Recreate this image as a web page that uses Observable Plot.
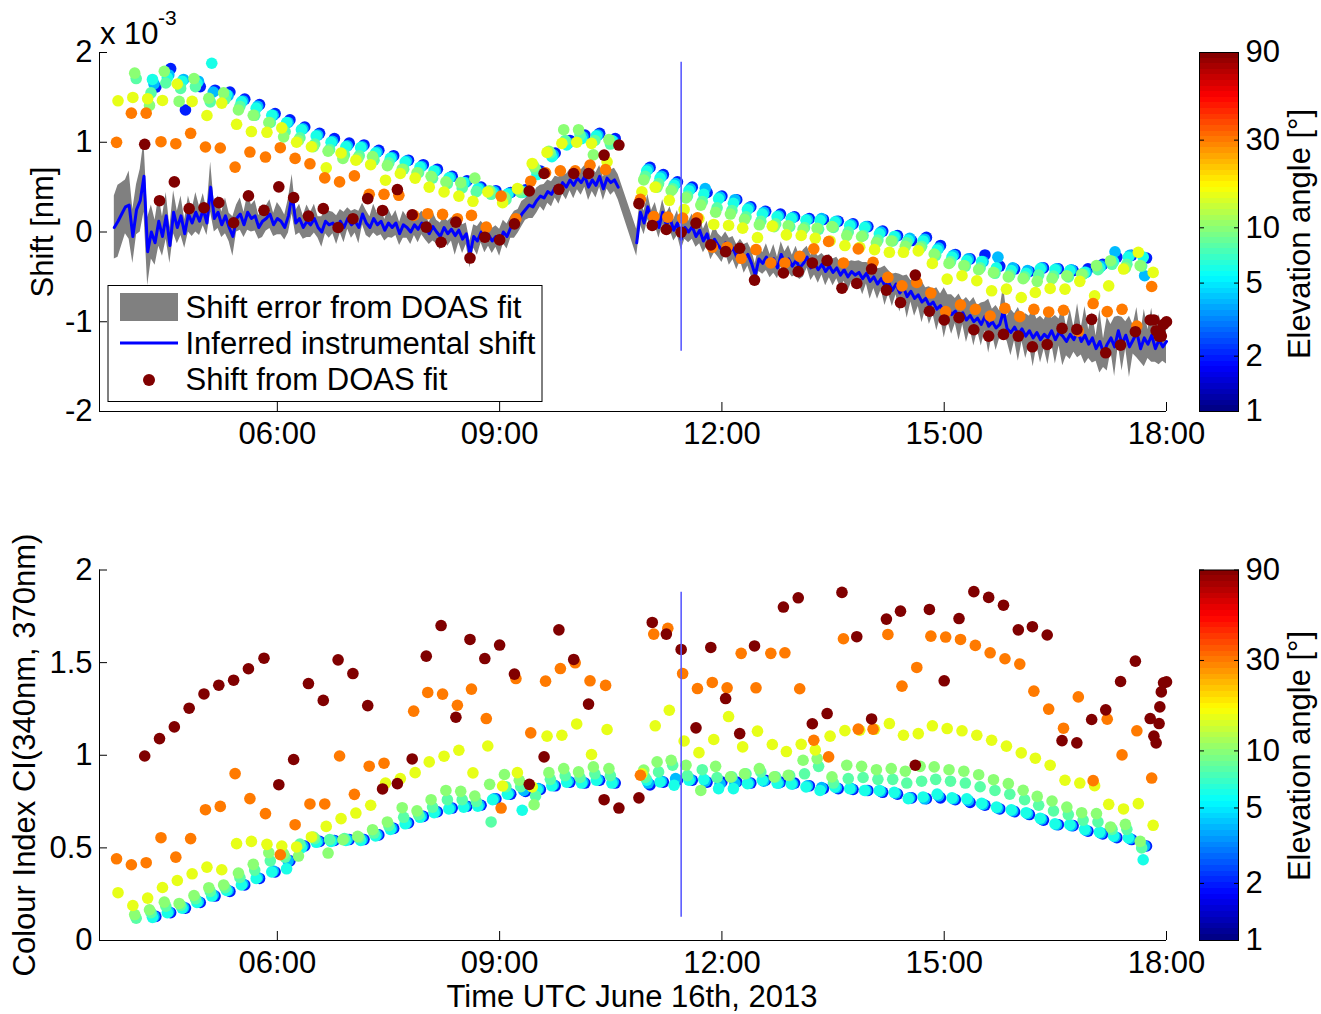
<!DOCTYPE html>
<html><head><meta charset="utf-8">
<script src="https://cdn.jsdelivr.net/npm/d3@7"></script>
<script src="https://cdn.jsdelivr.net/npm/@observablehq/plot@0.6"></script>
<style>
body{margin:0;background:#fff;font-family:"Liberation Sans",Arial,sans-serif;}
#wrap{position:relative;width:1321px;height:1014px;overflow:hidden;background:#fff;}
.abs{position:absolute;}
.lbl{position:absolute;font-size:31px;line-height:31px;color:#000;white-space:nowrap;}
.rot{transform:translate(-50%,-50%) rotate(-90deg);}
</style></head><body>
<div id="wrap">
  <div id="topPlot" class="abs" style="left:0;top:0"></div>
  <div id="topBar" class="abs" style="left:1189px;top:0"></div>
  <div id="botPlot" class="abs" style="left:0;top:517px"></div>
  <div id="botBar" class="abs" style="left:1189px;top:517px"></div>
</div>
<script>
// ---------------- DATA ----------------
const xStart = 3.6, xEnd = 18;                 // hours UTC
const xTicks = [6, 9, 12, 15, 18];
const yTicksTop = [-2, -1, 0, 1, 2];
const yTicksBot = [0, 0.5, 1, 1.5, 2];
const cbTicks = [1, 2, 5, 10, 30, 90];

// elevation sequence of each scan and time offset (h) of each elevation within the scan
const elevations = [90, 30, 15, 10, 8, 6, 4, 2];
const elevOffsetH = [0, 0.02, 0.04, 0.065, 0.085, 0.105, 0.125, 0.15];

// scan start times (h UTC)
const scanTime = [3.81, 4.01, 4.21, 4.41, 4.61, 4.81, 5.01, 5.21, 5.41, 5.61,
 5.82, 6.02, 6.22, 6.42, 6.62, 6.82, 7.02, 7.22, 7.42, 7.62,
 7.82, 8.01, 8.21, 8.41, 8.60, 8.80, 9.00, 9.20, 9.40, 9.60,
 9.80, 10.00, 10.20, 10.41, 10.61,
 10.88, 11.06, 11.25, 11.45, 11.65, 11.85, 12.05, 12.24, 12.44, 12.64,
 12.83, 13.03, 13.22, 13.42, 13.62, 13.82, 14.02, 14.22, 14.41, 14.61,
 14.80, 15.00, 15.20, 15.40, 15.60, 15.80, 16.00, 16.19, 16.39, 16.59,
 16.79, 16.99, 17.18, 17.38, 17.58, 17.78];

// extra zenith measurements at the end of the day
const endTime = [17.83, 17.86, 17.90, 17.91, 17.93, 17.96, 18.00];
const endShift = [-0.98, -1.10, -1.16, -1.12, -1.16, -1.03, -1.00];
const endCI = [1.103, 1.067, 1.171, 1.261, 1.342, 1.391, 1.396];

// ---- shift from DOAS fit (x 1e-3 nm) per elevation ----
const sh90 = [null, null, 0.977, 0.349, 0.558, 0.26, 0.27, 0.327, 0.103, 0.402,
 0.241, 0.503, 0.383, 0.177, 0.26, 0.05, 0.148, 0.372, 0.24, 0.473,
 0.192, 0.054, -0.114, 0.11, -0.29, -0.058, -0.088, 0.091, 0.457, 0.652,
 0.476, 0.652, 0.652, 0.857, 0.969,
 0.316, 0.073, 0.028, -0.002, 0.099, -0.144, -0.219, -0.181, -0.536, null,
 -0.457, -0.442, -0.345, -0.319, -0.626, -0.573, -0.413, -0.648, -0.786, -0.48,
 -0.883, -0.98, -0.954, -1.089, -1.16, -1.141, -1.16, -1.279, -1.253, -1.074,
 -1.085, -0.973, -1.346, -1.26, -1.111, -0.98];
const sh30 = [0.999, 1.324, 1.324, 1.006, 0.984, 1.1, 0.947, 0.936, 0.723, 0.891,
 0.835, 0.939, 0.82, 0.76, 0.603, 0.558, 0.625, 0.42, 0.42, 0.409,
 0.185, 0.204, 0.196, 0.148, 0.185, 0.054, 0.40, 0.148, 0.566, 0.66,
 0.682, 0.682, 0.745, 0.696, null,
 0.364, 0.173, 0.166, 0.155, 0.159, -0.17, -0.17, -0.293, -0.196, -0.345,
 -0.345, -0.271, -0.188, -0.106, -0.345, -0.188, -0.338, -0.506, -0.6, -0.562,
 -0.68, -0.887, -0.812, -0.861, -0.936, -0.85, -0.943, -0.861, -0.891, -0.872,
 -1.104, -0.797, -0.887, -0.861, -1.048, -0.607];
const sh15 = [1.462, 1.499, 1.485, 1.466, 1.649, 1.455, 1.298, 1.436, 1.2, 1.119,
 1.111, 1.16, 1.0, 0.95, 0.715, 0.88, 0.80, 0.75, 0.577, 0.652,
 0.60, 0.50, 0.446, 0.40, 0.342, 0.446, 0.327, 0.484, 0.764, 0.887,
 0.988, 1.0, 0.988, 0.782, null,
 0.447, 0.50, 0.353, 0.25, 0.15, 0.084, 0.073, 0.043, -0.062, 0.065,
 -0.032, -0.039, -0.069, -0.10, -0.151, -0.17, -0.196, -0.226, -0.226, -0.21,
 -0.35, -0.525, -0.487, -0.543, -0.655, -0.637, -0.73, -0.674, -0.629, -0.637,
 -0.55, -0.711, -0.60, -0.413, -0.226, -0.45];
const sh10 = [null, 1.77, 1.41, 1.79, 1.455, 1.71, 1.49, 1.55, 1.36, 1.30,
 1.22, 1.06, 1.02, 0.95, 0.90, 0.82, 0.82, 0.84, 0.74, 0.70,
 0.66, 0.62, 0.56, 0.55, 0.60, 0.46, 0.39, 0.47, 0.73, 0.90,
 1.14, 1.14, 0.86, 1.03, null,
 0.58, 0.50, 0.46, 0.38, 0.30, 0.22, 0.20, 0.14, 0.08, 0.06,
 0.07, 0.03, 0.04, 0.06, -0.04, -0.05, -0.12, -0.10, -0.16, -0.18,
 -0.245, -0.35, -0.375, -0.42, -0.45, -0.50, -0.52, -0.55, -0.52, -0.487,
 -0.47, -0.375, -0.32, -0.40, -0.375, null];
const sh8 = [null, 1.71, 1.55, 1.66, 1.60, 1.62, 1.45, 1.48, 1.40, 1.30,
 1.22, 1.12, 1.05, 0.98, 0.92, 0.86, 0.85, 0.80, 0.77, 0.70,
 0.66, 0.60, 0.54, 0.49, 0.45, 0.42, 0.36, 0.44, 0.70, 0.88,
 1.02, 1.08, 1.02, 0.98, null,
 0.62, 0.54, 0.48, 0.40, 0.34, 0.27, 0.24, 0.17, 0.12, 0.09,
 0.06, 0.05, 0.03, 0.05, 0.00, -0.04, -0.09, -0.10, -0.12, -0.16,
 -0.26, -0.33, -0.38, -0.40, -0.46, -0.48, -0.50, -0.48, -0.49, -0.50,
 -0.47, -0.42, -0.36, -0.36, -0.38, null];
const sh6 = [null, null, 1.70, 1.72, 1.68, 1.66, 1.88, 1.53, 1.45, 1.38,
 1.30, 1.22, 1.14, 1.07, 1.00, 0.95, 0.94, 0.88, 0.82, 0.78,
 0.72, 0.68, 0.60, 0.55, 0.48, 0.44, 0.42, 0.44, 0.64, 0.84,
 0.97, 1.04, 1.07, 1.02, null,
 0.68, 0.60, 0.52, 0.46, 0.42, 0.37, 0.32, 0.25, 0.20, 0.17,
 0.15, 0.13, 0.13, 0.11, 0.07, 0.05, -0.02, -0.05, -0.09, -0.10,
 -0.20, -0.28, -0.32, -0.33, -0.40, -0.43, -0.46, -0.41, -0.42, -0.43,
 -0.45, -0.40, -0.33, -0.28, -0.28, null];
const sh4 = [null, null, 1.65, 1.75, 1.70, 1.68, 1.56, 1.52, 1.46, 1.40,
 1.30, 1.22, 1.15, 1.08, 1.01, 0.96, 0.95, 0.89, 0.83, 0.79,
 0.73, 0.68, 0.61, 0.55, 0.49, 0.45, 0.43, 0.45, 0.66, 0.86,
 0.99, 1.06, 1.08, 1.01, null,
 0.70, 0.62, 0.54, 0.48, 0.484, 0.39, 0.36, 0.27, 0.22, 0.18,
 0.16, 0.14, 0.15, 0.12, 0.08, 0.06, 0.00, -0.05, -0.07, -0.08,
 -0.18, -0.26, -0.30, -0.33, -0.28, -0.40, -0.43, -0.40, -0.41, -0.42,
 -0.45, -0.38, -0.22, -0.26, -0.487, null];
const sh2 = [null, null, 1.615, 1.82, 1.36, 1.62, 1.58, 1.56, 1.48, 1.42,
 1.32, 1.25, 1.17, 1.10, 1.04, 0.99, 0.97, 0.91, 0.85, 0.80,
 0.75, 0.70, 0.62, 0.57, 0.50, 0.46, 0.44, 0.47, 0.68, 0.88,
 1.02, 1.08, 1.10, 1.04, null,
 0.72, 0.64, 0.56, 0.50, 0.44, 0.40, 0.36, 0.28, 0.23, 0.20,
 0.17, 0.15, 0.14, 0.12, 0.09, 0.06, 0.01, -0.04, -0.095, -0.06,
 -0.15, -0.25, -0.30, -0.256, -0.38, -0.413, -0.44, -0.40, -0.41, -0.43,
 -0.41, -0.36, -0.28, -0.26, -0.29, null];

// ---- colour index CI(340nm, 370nm) per elevation ----
const ci90 = [null, null, 0.996, 1.09, 1.153, 1.254, 1.331, 1.378, 1.405, 1.467,
 1.524, 0.841, 0.977, 1.387, 1.296, 1.515, 1.441, 1.268, 0.818, 0.847,
 0.98, 1.535, 1.70, 1.205, 1.625, 1.522, 1.595, 1.438, 0.843, 0.991,
 1.677, 1.517, 1.276, 0.76, 0.715,
 0.77, 1.717, 1.654, 1.571, 1.148, 1.582, 1.306, 1.117, 1.59, null,
 1.80, 1.85, 1.17, 1.225, 1.879, 1.64, 1.196, 1.735, 1.778, 0.946,
 1.787, 1.402, 1.738, 1.883, 1.852, 1.81, 1.677, 1.694, 1.649, 1.079,
 1.067, 1.193, 1.245, 1.398, 1.508, 1.198];
const ci30 = [0.441, 0.409, 0.420, 0.555, 0.450, 0.550, 0.706, 0.724, 0.901, 0.766,
 0.685, 0.463, 0.625, 0.737, 0.737, 0.996, 0.789, 0.941, 0.957, null,
 1.238, 1.339, 1.33, 1.27, 1.357, 1.198, 0.715, 1.414, 1.121, 1.40,
 1.468, 1.499, 1.402, 1.377, null,
 0.892, 1.654, 1.685, 1.441, 1.36, 1.393, 1.364, 1.55, 1.364, 1.55,
 1.553, 1.359, 1.081, 0.991, 1.629, 1.141, 1.141, 1.652, 1.373, 1.474,
 1.643, 1.638, 1.625, 1.593, 1.553, 1.521, 1.492, 1.346, 1.249, 1.146,
 1.315, 0.863, 1.195, 1.002, 1.132, 0.877];
const ci15 = [0.258, 0.189, 0.229, 0.286, 0.324, 0.360, 0.396, 0.382, 0.523, 0.535,
 0.519, 0.510, 0.505, 0.559, 0.616, 0.658, 0.688, 0.730, 0.85, 0.874,
 0.906, 0.964, 0.995, 1.027, 0.905, 1.05, 0.834, 0.906, 0.829, 1.103,
 1.108, 1.169, 1.004, 1.139, null,
 0.90, 1.159, 1.243, 1.077, 1.014, 1.085, 1.209, 1.045, 1.13, 1.058,
 1.02, 1.059, 1.029, 1.103, 1.133, 1.135, 1.14, 1.171, 1.108, 1.117,
 1.159, 1.144, 1.132, 1.108, 1.081, 1.049, 1.013, 0.984, 0.946, 0.865,
 0.85, 0.836, 0.735, 0.71, 0.739, 0.622];
const ci10 = [null, 0.14, 0.166, 0.207, 0.20, 0.243, 0.285, 0.30, 0.364, 0.411,
 0.474, 0.468, 0.456, 0.559, 0.472, 0.544, 0.562, 0.598, 0.64, 0.717,
 0.70, 0.76, 0.81, 0.805, 0.78, 0.843, 0.896, 0.865, 0.733, 0.906,
 0.928, 0.91, 0.937, 0.928, null,
 0.92, 0.964, 0.973, 0.946, 0.81, 0.94, 0.883, 0.90, 0.928, 0.883,
 0.892, 0.973, 0.982, 0.883, 0.946, 0.94, 0.922, 0.928, 0.914, 0.94,
 0.937, 0.922, 0.914, 0.895, 0.868, 0.847, 0.811, 0.778, 0.753, 0.72,
 0.69, 0.685, 0.613, 0.627, 0.535, null];
const ci8 = [null, 0.12, 0.15, 0.185, 0.19, 0.225, 0.265, 0.285, 0.34, 0.38,
 0.43, 0.45, 0.52, 0.55, 0.545, 0.55, 0.555, 0.58, 0.62, 0.665,
 0.68, 0.72, 0.76, 0.76, 0.75, 0.64, 0.83, 0.83, 0.78, 0.87,
 0.89, 0.88, 0.90, 0.89, null,
 0.88, 0.91, 0.946, 0.89, 0.922, 0.88, 0.883, 0.90, 0.91, 0.883,
 0.89, 0.90, 0.94, 0.85, 0.874, 0.88, 0.87, 0.87, 0.85, 0.86,
 0.87, 0.86, 0.85, 0.83, 0.81, 0.79, 0.76, 0.73, 0.70, 0.68,
 0.65, 0.64, 0.60, 0.60, 0.50, null];
const ci6 = [null, null, 0.125, 0.15, 0.175, 0.205, 0.24, 0.27, 0.30, 0.335,
 0.37, 0.387, 0.50, 0.53, 0.535, 0.54, 0.54, 0.565, 0.60, 0.63,
 0.665, 0.69, 0.71, 0.72, 0.725, 0.76, 0.79, 0.703, 0.815, 0.835,
 0.855, 0.85, 0.865, 0.85, null,
 0.865, 0.856, 0.838, 0.865, 0.87, 0.82, 0.82, 0.847, 0.865, 0.85,
 0.845, 0.829, 0.81, 0.829, 0.82, 0.81, 0.81, 0.80, 0.766, 0.775,
 0.79, 0.77, 0.765, 0.74, 0.72, 0.705, 0.69, 0.66, 0.63, 0.625,
 0.60, 0.585, 0.565, 0.555, 0.436, null];
const ci4 = [null, null, 0.13, 0.155, 0.178, 0.21, 0.245, 0.27, 0.305, 0.34,
 0.375, 0.43, 0.51, 0.535, 0.54, 0.545, 0.545, 0.57, 0.605, 0.635,
 0.67, 0.695, 0.715, 0.725, 0.73, 0.765, 0.795, 0.81, 0.82, 0.84,
 0.86, 0.855, 0.87, 0.855, null,
 0.85, 0.86, 0.874, 0.87, 0.86, 0.845, 0.85, 0.85, 0.86, 0.85,
 0.845, 0.835, 0.825, 0.825, 0.82, 0.81, 0.805, 0.795, 0.77, 0.765,
 0.78, 0.765, 0.755, 0.735, 0.715, 0.70, 0.685, 0.655, 0.625, 0.62,
 0.595, 0.58, 0.56, 0.55, 0.51, null];
const ci2 = [null, null, 0.13, 0.15, 0.175, 0.205, 0.24, 0.265, 0.30, 0.335,
 0.37, 0.43, 0.51, 0.535, 0.54, 0.545, 0.545, 0.57, 0.605, 0.635,
 0.67, 0.695, 0.715, 0.725, 0.73, 0.765, 0.79, 0.805, 0.815, 0.835,
 0.855, 0.85, 0.865, 0.85, null,
 0.84, 0.855, 0.865, 0.865, 0.855, 0.856, 0.856, 0.85, 0.865, 0.855,
 0.85, 0.835, 0.82, 0.82, 0.815, 0.81, 0.80, 0.79, 0.77, 0.766,
 0.77, 0.76, 0.745, 0.73, 0.71, 0.695, 0.68, 0.65, 0.625, 0.62,
 0.59, 0.575, 0.555, 0.545, 0.51, null];

// ---- inferred instrumental shift (x 1e-3 nm), sampled every 0.05 h ----
const lineStep = 0.05;
const lineStartA = 3.80;
const shiftA = [0.05, 0.12, 0.20, 0.28, 0.30, -0.05, 0.25, 0.35, 0.62, -0.22,
 0.00, -0.12, 0.12, -0.05, 0.18, -0.15, 0.22, 0.05, 0.18, -0.02,
 0.20, 0.10, 0.22, 0.12, 0.25, 0.10, 0.50, 0.15, 0.22, 0.08,
 0.18, 0.05, -0.05, 0.15, 0.20, 0.08, 0.22, 0.15, 0.18, 0.05,
 0.12, 0.15, 0.20, 0.08, 0.15, 0.12, 0.05, 0.18, 0.42, 0.10,
 0.15, 0.05, 0.12, 0.08, 0.15, 0.05, 0.00, 0.12, 0.08, 0.10,
 0.02, 0.12, 0.05, 0.15, 0.08, 0.12, 0.05, 0.20, 0.10, 0.05,
 0.15, 0.08, 0.12, 0.02, 0.10, 0.05, 0.10, -0.02, 0.08, 0.05,
 0.00, 0.08, 0.03, 0.10, 0.05, -0.02, 0.06, 0.00, -0.05, 0.05,
 -0.02, 0.03, -0.04, 0.02, -0.08, -0.02, -0.25, -0.05, -0.10, 0.00,
 -0.08, -0.03, -0.10, -0.05, -0.12, 0.00, -0.05, 0.05, 0.08, 0.12,
 0.20, 0.25, 0.30, 0.28, 0.35, 0.40, 0.38, 0.45, 0.42, 0.50,
 0.46, 0.55, 0.50, 0.58, 0.52, 0.60, 0.55, 0.62, 0.50, 0.58,
 0.52, 0.62, 0.48, 0.60, 0.55, 0.58, 0.50];
const errA = [0.35, 0.40, 0.35, 0.30, 0.38, 0.30, 0.28, 0.35, 0.40, 0.38,
 0.30, 0.25, 0.28, 0.22, 0.26, 0.20, 0.24, 0.18, 0.22, 0.16,
 0.20, 0.15, 0.22, 0.16, 0.18, 0.14, 0.28, 0.15, 0.18, 0.14,
 0.20, 0.16, 0.22, 0.15, 0.18, 0.14, 0.20, 0.15, 0.17, 0.13,
 0.18, 0.14, 0.16, 0.13, 0.18, 0.15, 0.14, 0.19, 0.22, 0.14,
 0.16, 0.13, 0.18, 0.14, 0.16, 0.12, 0.17, 0.14, 0.15, 0.12,
 0.16, 0.13, 0.17, 0.12, 0.15, 0.13, 0.18, 0.12, 0.14, 0.12,
 0.16, 0.13, 0.15, 0.12, 0.16, 0.12, 0.14, 0.13, 0.15, 0.12,
 0.14, 0.12, 0.15, 0.13, 0.14, 0.12, 0.16, 0.13, 0.15, 0.12,
 0.14, 0.13, 0.22, 0.14, 0.16, 0.12, 0.15, 0.13, 0.16, 0.12,
 0.15, 0.13, 0.14, 0.12, 0.15, 0.13, 0.14, 0.12, 0.15, 0.13,
 0.14, 0.12, 0.15, 0.13, 0.14, 0.12, 0.15, 0.13, 0.14, 0.12,
 0.15, 0.13, 0.14, 0.12, 0.15, 0.13, 0.14, 0.12, 0.15, 0.13,
 0.14, 0.12, 0.13, 0.12, 0.14, 0.13, 0.14];
const lineStartB = 10.85;
const shiftB = [-0.12, 0.22, 0.10, 0.28, 0.12, 0.20, 0.05, 0.22, 0.08, 0.15,
 0.02, 0.10, -0.08, 0.05, 0.00, 0.06, -0.05, 0.02, -0.10, -0.02,
 -0.18, -0.08, -0.15, -0.20, -0.12, -0.22, -0.18, -0.28, -0.20, -0.30,
 -0.25, -0.35, -0.48, -0.30, -0.35, -0.28, -0.38, -0.30, -0.40, -0.25,
 -0.35, -0.30, -0.38, -0.32, -0.40, -0.35, -0.28, -0.40, -0.35, -0.42,
 -0.36, -0.44, -0.38, -0.45, -0.40, -0.48, -0.42, -0.50, -0.44, -0.48,
 -0.45, -0.52, -0.46, -0.55, -0.50, -0.58, -0.52, -0.60, -0.56, -0.65,
 -0.58, -0.68, -0.62, -0.72, -0.66, -0.74, -0.70, -0.78, -0.74, -0.82,
 -0.78, -0.86, -0.82, -0.90, -0.85, -0.92, -0.88, -0.95, -0.90, -0.98,
 -0.93, -1.00, -0.96, -1.03, -0.94, -1.05, -1.00, -1.07, -1.03, -0.88,
 -1.08, -1.12, -1.06, -1.14, -1.08, -1.16, -1.10, -1.18, -1.12, -1.20,
 -1.14, -1.18, -1.10, -1.20, -1.12, -1.16, -1.22, -1.14, -1.20, -1.10,
 -1.22, -1.15, -1.25, -1.18, -1.30, -1.22, -1.35, -1.25, -1.18, -1.28,
 -1.10, -1.25, -1.15, -1.28, -1.20, -1.12, -1.30, -1.18, -1.25, -1.15,
 -1.30, -1.20, -1.28, -1.22];
const errB = [0.15, 0.14, 0.13, 0.14, 0.12, 0.13, 0.12, 0.14, 0.12, 0.13,
 0.12, 0.14, 0.12, 0.13, 0.12, 0.14, 0.12, 0.15, 0.13, 0.14,
 0.13, 0.15, 0.13, 0.14, 0.12, 0.15, 0.13, 0.14, 0.12, 0.16,
 0.13, 0.15, 0.13, 0.14, 0.12, 0.15, 0.13, 0.16, 0.12, 0.14,
 0.13, 0.15, 0.12, 0.16, 0.13, 0.15, 0.12, 0.14, 0.13, 0.15,
 0.12, 0.16, 0.13, 0.15, 0.12, 0.14, 0.13, 0.16, 0.12, 0.15,
 0.13, 0.18, 0.12, 0.20, 0.13, 0.17, 0.12, 0.22, 0.13, 0.18,
 0.12, 0.21, 0.13, 0.24, 0.12, 0.20, 0.13, 0.23, 0.12, 0.21,
 0.14, 0.24, 0.13, 0.28, 0.15, 0.22, 0.14, 0.26, 0.13, 0.25,
 0.15, 0.27, 0.14, 0.24, 0.16, 0.30, 0.14, 0.25, 0.15, 0.28,
 0.14, 0.26, 0.15, 0.30, 0.14, 0.25, 0.16, 0.32, 0.15, 0.26,
 0.16, 0.30, 0.14, 0.27, 0.15, 0.33, 0.16, 0.28, 0.14, 0.30,
 0.15, 0.32, 0.16, 0.28, 0.14, 0.35, 0.16, 0.30, 0.15, 0.33,
 0.16, 0.30, 0.15, 0.34, 0.16, 0.28, 0.15, 0.32, 0.16, 0.30,
 0.15, 0.28, 0.16, 0.25];

// marker line (time, and vertical extent in each panel)
const markerTime = 11.45;
const markerTop = [-1.33, 1.89];
const markerBot = [0.125, 1.88];

// ---------------- BUILD ----------------
const FONT = '"Liberation Sans", Arial, Helvetica, sans-serif';
const FS = 31;
function jet(t) {
  const c = v => Math.max(0, Math.min(1, v));
  const r = c(1.5 - Math.abs(4 * t - 3)), g = c(1.5 - Math.abs(4 * t - 2)), b = c(1.5 - Math.abs(4 * t - 1));
  return `rgb(${Math.round(r * 255)},${Math.round(g * 255)},${Math.round(b * 255)})`;
}
const colorOpts = {type: "log", domain: [1, 90], interpolate: jet, clamp: true};
const fmtTime = h => String(h).padStart(2, "0") + ":00";

function buildPoints(series, extra) {
  const out = [];
  scanTime.forEach((t0, i) => elevations.forEach((e, k) => {
    const v = series[k][i];
    if (v !== null && v !== undefined) out.push({t: t0 + elevOffsetH[k], v, e});
  }));
  endTime.forEach((t, i) => out.push({t, v: extra[i], e: 90}));
  // drawn by elevation: lowest first, zenith on top
  out.sort((a, b) => a.e - b.e || a.t - b.t);
  return out;
}
const topPts = buildPoints([sh90, sh30, sh15, sh10, sh8, sh6, sh4, sh2], endShift);
const botPts = buildPoints([ci90, ci30, ci15, ci10, ci8, ci6, ci4, ci2], endCI);

const lineData = [
  ...shiftA.map((v, i) => ({t: lineStartA + i * lineStep, v, err: errA[i] ?? 0.14, seg: "a"})),
  ...shiftB.map((v, i) => ({t: lineStartB + i * lineStep, v, err: errB[i] ?? 0.14, seg: "b"}))
];

const baseStyle = {fontFamily: FONT, fontSize: FS + "px", color: "#000", background: "transparent", overflow: "visible"};

function panel({height, marginTop, marginBottom, yDomain, yTicks, marks}) {
  return Plot.plot({
    width: 1190, height, marginLeft: 99, marginRight: 24, marginTop, marginBottom,
    style: baseStyle,
    x: {domain: [xStart, xEnd]},
    y: {domain: yDomain},
    color: colorOpts,
    marks: [
      ...marks,
      Plot.ruleX([xStart], {stroke: "#000", strokeWidth: 1}),
      Plot.ruleY([yDomain[0]], {stroke: "#000", strokeWidth: 1}),
      Plot.axisX({ticks: xTicks, tickFormat: fmtTime, tickSize: -9, tickPadding: 19, label: null, stroke: "#000"}),
      Plot.axisY({ticks: yTicks, tickFormat: d => String(d), tickSize: -8, tickPadding: 15, label: null, stroke: "#000"})
    ]
  });
}

const topPlot = panel({
  height: 470, marginTop: 52, marginBottom: 59, yDomain: [-2, 2], yTicks: yTicksTop,
  marks: [
    Plot.areaY(lineData, {x: "t", y1: d => d.v - d.err, y2: d => d.v + d.err, fill: "#808080"}),
    Plot.line(lineData, {x: "t", y: "v", z: "seg", stroke: "#0000ff", strokeWidth: 3}),
    Plot.dot(topPts, {x: "t", y: "v", fill: "e", r: 5.8, stroke: "none"}),
    Plot.ruleX([markerTime], {y1: markerTop[0], y2: markerTop[1], stroke: "#5c5cff", strokeWidth: 1.6})
  ]
});
const botPlot = panel({
  height: 483, marginTop: 52.5, marginBottom: 60, yDomain: [0, 2], yTicks: yTicksBot,
  marks: [
    Plot.dot(botPts, {x: "t", y: "v", fill: "e", r: 5.8, stroke: "none"}),
    Plot.ruleX([markerTime], {y1: markerBot[0], y2: markerBot[1], stroke: "#5c5cff", strokeWidth: 1.6})
  ]
});

function colorbar(height, marginTop, marginBottom) {
  const n = 64;
  const bands = d3.range(n).map(i => ({y1: Math.pow(90, i / n), y2: Math.pow(90, (i + 1) / n)}));
  return Plot.plot({
    width: 132, height, marginLeft: 10, marginRight: 83, marginTop, marginBottom,
    style: baseStyle,
    x: {domain: [0, 1], axis: null},
    y: {type: "log", domain: [1, 90], axis: null},
    color: colorOpts,
    marks: [
      Plot.rect(bands, {x1: 0, x2: 1, y1: "y1", y2: "y2", fill: d => Math.sqrt(d.y1 * d.y2), shapeRendering: "crispEdges"}),
      Plot.frame({stroke: "#000", strokeWidth: 1}),
      Plot.axisY({anchor: "right", ticks: cbTicks, tickFormat: () => "", tickSize: -5, label: null}),
      Plot.axisY({anchor: "left", ticks: cbTicks, tickFormat: () => "", tickSize: -5, label: null}),
      Plot.text(cbTicks, {x: 1, y: d => d, text: d => String(d), dx: 7, textAnchor: "start", lineAnchor: "middle", fontSize: FS, fill: "#000"})
    ]
  });
}

document.getElementById("topPlot").append(topPlot);
document.getElementById("botPlot").append(botPlot);
document.getElementById("topBar").append(colorbar(470, 52, 59));
document.getElementById("botBar").append(colorbar(483, 52.5, 60));

// ---------- text labels ----------
const wrap = document.getElementById("wrap");
function label(text, css, cls = "lbl") {
  const d = document.createElement("div");
  d.className = cls;
  d.textContent = text;
  d.style.cssText += css;
  wrap.append(d);
  return d;
}
label("x 10", "left:100px;top:17.8px;");
label("-3", "left:158px;top:7px;font-size:21px;line-height:21px;");
label("Shift [nm]", "left:42px;top:232px;", "lbl rot");
label("Colour Index CI(340nm, 370nm)", "left:24px;top:755px;", "lbl rot");
label("Elevation angle [°]", "left:1299px;top:234px;", "lbl rot");
label("Elevation angle [°]", "left:1299px;top:756px;", "lbl rot");
label("Time UTC June 16th, 2013", "left:632px;top:980.5px;transform:translateX(-50%);");

// ---------- legend ----------
const NS = "http://www.w3.org/2000/svg";
const leg = document.createElementNS(NS, "svg");
leg.setAttribute("width", 437); leg.setAttribute("height", 120);
leg.style.cssText = "position:absolute;left:107px;top:284px;overflow:visible;";
leg.innerHTML = `
  <rect x="1" y="1.5" width="434" height="116" fill="#fff" stroke="#000" stroke-width="1"/>
  <rect x="13" y="9" width="58" height="28" fill="#808080"/>
  <line x1="13" x2="71" y1="59" y2="59" stroke="#0000ff" stroke-width="3"/>
  <circle cx="42" cy="96" r="6" fill="${jet(1)}"/>
  <g font-family='${FONT}' font-size="${FS}" fill="#000">
    <text x="78.5" y="33.7">Shift error from DOAS fit</text>
    <text x="78.5" y="70">Inferred instrumental shift</text>
    <text x="78.5" y="106">Shift from DOAS fit</text>
  </g>`;
wrap.append(leg);
</script>
</body></html>
